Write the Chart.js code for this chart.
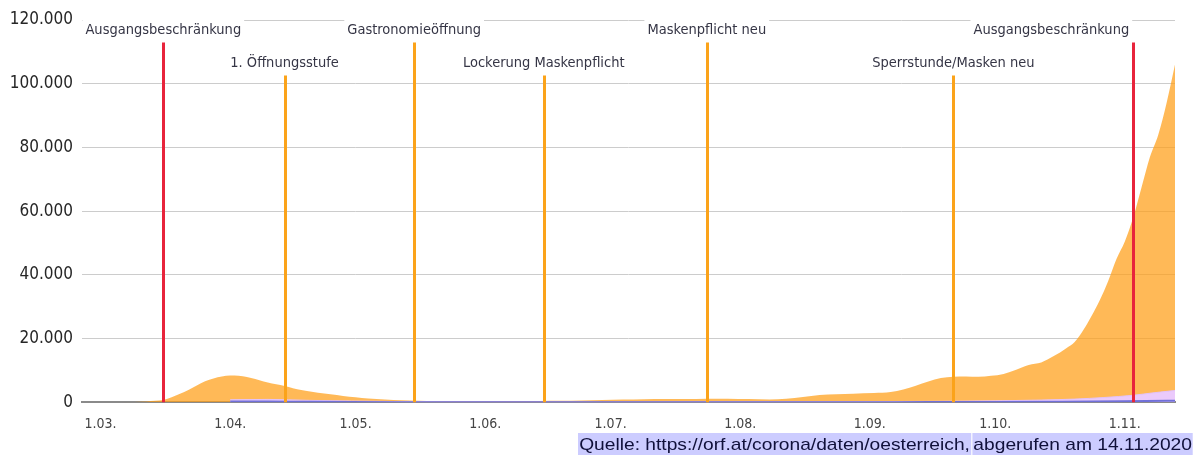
<!DOCTYPE html>
<html><head><meta charset="utf-8">
<script src="https://cdn.jsdelivr.net/npm/chart.js@4"></script>
<style>
html,body{margin:0;padding:0;background:#fff;}
#wrap{position:relative;width:1203px;height:455px;overflow:hidden;background:#fff;}
#c{position:absolute;left:0;top:0;}
#src{position:absolute;left:578px;top:433px;height:22px;font:17px 'Liberation Sans',Arial,sans-serif;color:#10103a;line-height:24px;white-space:nowrap;transform:scaleX(1.13);transform-origin:0 0;}
#src span{background:#ccccff;padding:0 1px;display:inline-block;height:24px;}
#src span + span{margin-left:1px;}
</style></head><body>
<div id="wrap"><canvas id="c" width="1203" height="455"></canvas>
<div id="src"><span>Quelle: https://orf.at/corona/daten/oesterreich, </span><span>abgerufen am 14.11.2020</span></div></div>
<script>
// ---- data (days counted from 1 March 2020) ----
const activeDays  = [-4, 0, 5, 8, 11, 13, 15, 17, 19, 21, 23, 25, 27, 29, 31, 33, 35, 37, 39, 41, 43, 45, 47, 49, 52, 55, 58, 61, 64, 68, 72, 76, 80, 85, 90, 95, 100, 105, 110, 115, 120, 125, 130, 135, 140, 145, 150, 155, 160, 164, 168, 172, 176, 180, 185, 189, 192, 195, 198, 201, 204, 207, 210, 213, 216, 219, 222, 225, 228, 231, 233, 235, 237, 239, 241, 243, 245, 247, 249, 251, 253, 255, 257];
const activeCases = [0, 10, 40, 100, 250, 450, 750, 1600, 2700, 3900, 5300, 6600, 7500, 8100, 8400, 8300, 7950, 7300, 6500, 5900, 5400, 4800, 4100, 3600, 3000, 2500, 2000, 1600, 1200, 900, 650, 500, 420, 380, 350, 350, 380, 400, 450, 550, 700, 850, 950, 1000, 1050, 1150, 1100, 1000, 900, 1100, 1700, 2300, 2550, 2700, 2900, 3200, 4000, 5200, 6500, 7600, 8000, 8100, 8000, 8300, 8900, 10200, 11700, 12500, 14500, 17000, 18900, 22500, 27000, 32000, 38000, 45000, 50500, 58000, 67500, 77000, 84000, 94000, 106000];

const hospDays  = [31, 40, 50, 60, 80, 120, 160, 200, 214, 225, 233, 240, 247, 252, 257];
const hospCases = [800, 900, 600, 400, 150, 100, 150, 300, 450, 700, 1000, 1500, 2200, 3000, 3700];

const icuDays  = [31, 40, 50, 70, 120, 190, 214, 230, 245, 257];
const icuCases = [250, 230, 150, 50, 10, 50, 100, 200, 350, 500];

const monthTickDays   = [0, 31, 61, 92, 122, 153, 184, 214, 245];
const monthTickLabels = ['1.03.', '1.04.', '1.05.', '1.06.', '1.07.', '1.08.', '1.09.', '1.10.', '1.11.'];

const yTickValues = [0, 20000, 40000, 60000, 80000, 100000, 120000];
const yTickLabels = ['0', '20.000', '40.000', '60.000', '80.000', '100.000', '120.000'];

const eventDays   = [15, 44, 75, 106, 145, 204, 247];
const eventLabels = ['Ausgangsbeschränkung', '1. Öffnungsstufe', 'Gastronomieöffnung', 'Lockerung Maskenpflicht', 'Maskenpflicht neu', 'Sperrstunde/Masken neu', 'Ausgangsbeschränkung'];
const eventKinds  = ['lockdown', 'easing', 'easing', 'easing', 'measure', 'measure', 'lockdown'];

// ---- styling ----
const FONT_FAMILY = "'DejaVu Sans Condensed', 'DejaVu Sans', sans-serif";
const eventColors = { lockdown: '#e8243c', easing: '#fba31a', measure: '#fba31a' };

const pts = (xs, ys) => xs.map((d, i) => ({ x: d, y: ys[i] }));

const eventPlugin = {
  id: 'events',
  afterDatasetsDraw(chart) {
    const { ctx, chartArea, scales: { x } } = chart;
    ctx.save();
    eventDays.forEach((d, i) => {
      const px = Math.round(x.getPixelForValue(d)) + 0.5;
      const top = chartArea.top + (i % 2 === 0 ? 22.5 : 55.5);
      ctx.strokeStyle = eventColors[eventKinds[i]];
      ctx.lineWidth = 3;
      ctx.beginPath();
      ctx.moveTo(px, top);
      ctx.lineTo(px, chartArea.bottom);
      ctx.stroke();
    });
    ctx.font = "14.5px " + FONT_FAMILY;
    ctx.textBaseline = 'alphabetic';
    ctx.textAlign = 'left';
    eventDays.forEach((d, i) => {
      const px = x.getPixelForValue(d);
      const base = chartArea.top + (i % 2 === 0 ? 13.5 : 46.5);
      const w = ctx.measureText(eventLabels[i]).width;
      let left = px - w / 2;
      if (left + w > chartArea.right) left = px - 4 - w;
      if (left < chartArea.left) left = chartArea.left + 3;
      ctx.fillStyle = '#ffffff';
      ctx.fillRect(left - 3, base - 17, w + 6, 22);
      ctx.fillStyle = '#353545';
      ctx.fillText(eventLabels[i], left, base);
    });
    ctx.restore();
  }
};

new Chart(document.getElementById('c'), {
  type: 'line',
  data: {
    datasets: [
      { label: 'Intensiv', data: pts(icuDays, icuCases), borderColor: '#7070d8', borderWidth: 2,
        backgroundColor: '#7070d8', fill: false, pointRadius: 0, tension: 0.3, cubicInterpolationMode: 'monotone', order: 1 },
      { label: 'Spital', data: pts(hospDays, hospCases), borderColor: '#e2c2fa', borderWidth: 1,
        backgroundColor: '#ebcafc', fill: 'origin', pointRadius: 0, tension: 0.3, cubicInterpolationMode: 'monotone', order: 2 },
      { label: 'Aktive Fälle', data: pts(activeDays, activeCases), borderColor: 'rgba(255,158,22,0.72)', borderWidth: 0,
        backgroundColor: 'rgba(255,158,22,0.72)', fill: 'origin', pointRadius: 0, tension: 0.3, cubicInterpolationMode: 'monotone', order: 3 }
    ]
  },
  options: {
    responsive: false,
    devicePixelRatio: 1,
    animation: false,
    layout: { padding: { top: 20, right: 28, left: 0, bottom: 0 } },
    plugins: { legend: { display: false }, tooltip: { enabled: false } },
    scales: {
      x: {
        type: 'linear', min: -4.45, max: 257,
        grid: { display: false, drawTicks: false },
        border: { display: true, color: '#8a8a8a', width: 2 },
        afterBuildTicks: s => { s.ticks = monthTickDays.map(v => ({ value: v })); },
        afterFit: s => { s.height = 52.7; },
        ticks: {
          autoSkip: false, maxRotation: 0, padding: 14,
          color: '#444444', font: { family: FONT_FAMILY, size: 14 },
          callback: v => monthTickLabels[monthTickDays.indexOf(v)]
        }
      },
      y: {
        type: 'linear', min: 0, max: 120000,
        grid: { drawTicks: false, color: c => (c.tick && c.tick.value === 0) ? 'rgba(0,0,0,0)' : '#cccccc', lineWidth: 1 },
        border: { display: false },
        afterBuildTicks: s => { s.ticks = yTickValues.map(v => ({ value: v })); },
        afterFit: s => { s.width = 82; },
        ticks: {
          padding: 9, color: '#262626', font: { family: FONT_FAMILY, size: 17 },
          callback: v => yTickLabels[yTickValues.indexOf(v)]
        }
      }
    }
  },
  plugins: [eventPlugin]
});
</script>
</body></html>
